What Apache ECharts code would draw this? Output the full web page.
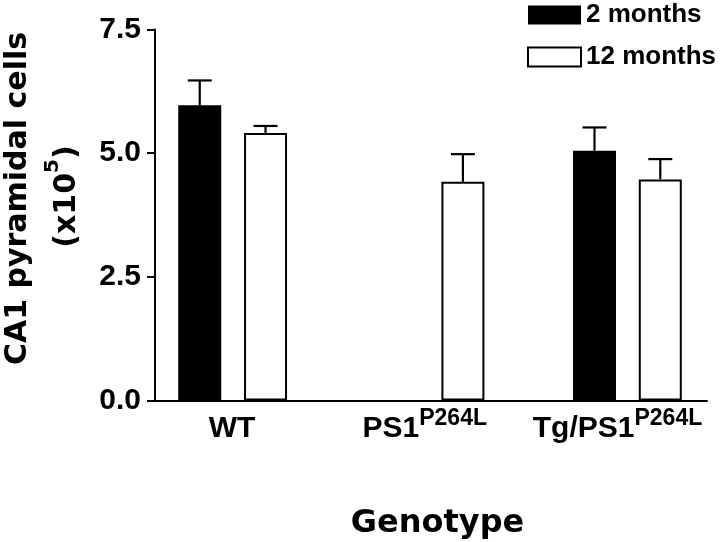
<!DOCTYPE html>
<html>
<head>
<meta charset="utf-8">
<script src="https://cdn.jsdelivr.net/npm/echarts@6/dist/echarts.min.js"></script>
<style>html,body{margin:0;padding:0;background:#fff;}#c{width:720px;height:542px;}</style>
</head>
<body>
<div id="c"></div>
<script>
// ---- data ----
const categories = ['WT', 'PS1', 'Tg/PS1'];
const superscripts = ['', 'P264L', 'P264L'];
const seriesNames = ['2 months', '12 months'];
const months2 = [5.97, null, 5.05];
const months2Err = [0.50, null, 0.47];
const months12 = [5.41, 4.42, 4.47];
const months12Err = [0.14, 0.56, 0.41];
const yTicks = [0, 2.5, 5.0, 7.5];
const yTitle = 'CA1 pyramidal cells';
const yUnit = ['(x10', '5', ')'];
const xTitle = 'Genotype';

// each genotype occupies 3 bar slots (2 mo, 12 mo, gap)
const slotOf = (g, k) => g * 3 + k;
function barData(vals, k) {
  const out = [];
  vals.forEach((v, i) => { if (v != null) out.push([slotOf(i, k), v]); });
  return out;
}
function errData(vals, errs, k) {
  const out = [];
  vals.forEach((v, i) => { if (v != null) out.push([slotOf(i, k), v, errs[i]]); });
  return out;
}
const errAll = errData(months2, months2Err, 0).concat(errData(months12, months12Err, 1));

const LF = 'Liberation Sans, Arial, Helvetica, sans-serif';
const TF = 'DejaVu Sans, sans-serif';

const chart = echarts.init(document.getElementById('c'), null, {renderer: 'canvas'});
chart.setOption({
  animation: false,
  backgroundColor: '#fff',
  legend: {
    orient: 'vertical',
    left: 527, top: 2, padding: 0,
    itemWidth: 53, itemHeight: 19, itemGap: 16,
    textStyle: {fontSize: 26, fontWeight: 'bold', fontFamily: LF, color: '#000', lineHeight: 26},
    data: [
      {name: seriesNames[0], icon: 'rect', itemStyle: {color: '#000', borderColor: '#000', borderWidth: 0}},
      {name: seriesNames[1], icon: 'rect', itemStyle: {color: '#fff', borderColor: '#000', borderWidth: 2}}
    ]
  },
  grid: [
    {left: 155, right: 13, top: 29.5, bottom: 141.5, outerBoundsMode: 'none', containLabel: false},
    {left: 135.6, right: 6.1, top: 29.5, bottom: 141.5, outerBoundsMode: 'none', containLabel: false}
  ],
  xAxis: [
    {
      type: 'value', gridIndex: 0, min: -0.68, max: 7.71,
      axisLine: {show: true, onZero: false, lineStyle: {color: '#000', width: 2}},
      axisTick: {show: false}, axisLabel: {show: false}, splitLine: {show: false},
      name: xTitle, nameLocation: 'middle', nameGap: 107,
      nameTextStyle: {fontSize: 32, fontWeight: 'bold', fontFamily: TF, color: '#000', lineHeight: 32, padding: [0, 0, 0, 13]}
    },
    {
      type: 'category', gridIndex: 1, data: categories,
      axisLine: {show: false, onZero: false}, axisTick: {show: false}, splitLine: {show: false},
      axisLabel: {
        margin: 3,
        formatter: function (v, i) {
          const s = superscripts[i];
          return '{b|' + v + '}' + (s ? '{s|' + s + '}' : '');
        },
        rich: {
          b: {fontSize: 30, fontWeight: 'bold', fontFamily: LF, color: '#000', lineHeight: 40, verticalAlign: 'bottom'},
          s: {fontSize: 23, fontWeight: 'bold', fontFamily: LF, color: '#000', lineHeight: 23, verticalAlign: 'bottom', padding: [0, 0, 13, 0]}
        }
      }
    }
  ],
  yAxis: [
    {
      type: 'value', gridIndex: 0,
      min: yTicks[0], max: yTicks[yTicks.length - 1], interval: yTicks[1] - yTicks[0],
      axisLine: {show: true, onZero: false, lineStyle: {color: '#000', width: 2}},
      axisTick: {show: true, length: 8, lineStyle: {color: '#000', width: 2}},
      splitLine: {show: false},
      axisLabel: {
        margin: 14, color: '#000', fontSize: 30, fontWeight: 'bold', fontFamily: LF,
        formatter: v => v.toFixed(1)
      },
      name: yTitle,
      nameLocation: 'middle', nameGap: 122,
      nameTextStyle: {
        fontSize: 30, fontWeight: 'bold', fontFamily: TF, color: '#000', lineHeight: 30,
        padding: [0, 0, 0, 33]
      }
    },
    {
      type: 'value', gridIndex: 1, min: 0, max: 7.5,
      axisLine: {show: false, onZero: false}, axisTick: {show: false},
      axisLabel: {show: false}, splitLine: {show: false},
      name: '{t|' + yUnit[0] + '}{sup|' + yUnit[1] + '}{t|' + yUnit[2] + '}',
      nameLocation: 'middle', nameGap: 53,
      nameTextStyle: {
        padding: [0, 0, 0, 37],
        rich: {
          t: {fontSize: 30, fontWeight: 'bold', fontFamily: TF, color: '#000', lineHeight: 30, verticalAlign: 'bottom'},
          sup: {fontSize: 20, fontWeight: 'bold', fontFamily: TF, color: '#000', lineHeight: 20, verticalAlign: 'bottom', padding: [0, 0, 20, 0]}
        }
      }
    }
  ],
  series: [
    {
      name: seriesNames[0], type: 'bar', xAxisIndex: 0, yAxisIndex: 0,
      barWidth: 43,
      itemStyle: {color: '#000', borderColor: '#000', borderWidth: 2},
      data: barData(months2, 0)
    },
    {
      name: seriesNames[1], type: 'bar', xAxisIndex: 0, yAxisIndex: 0,
      barWidth: 43, barGap: '-100%',
      itemStyle: {color: '#fff', borderColor: '#000', borderWidth: 2},
      data: barData(months12, 1)
    },
    {
      type: 'custom', xAxisIndex: 0, yAxisIndex: 0, z: 5,
      data: errAll,
      renderItem: function (params, api) {
        const x = api.value(0), m = api.value(1), e = api.value(2);
        const p0 = api.coord([x, m]);
        const p1 = api.coord([x, m + e]);
        const hw = 12;
        const st = {stroke: '#000', lineWidth: 2.2};
        return {
          type: 'group',
          children: [
            {type: 'line', shape: {x1: p0[0], y1: p0[1], x2: p1[0], y2: p1[1]}, style: st},
            {type: 'line', shape: {x1: p1[0] - hw, y1: p1[1], x2: p1[0] + hw, y2: p1[1]}, style: st}
          ]
        };
      }
    }
  ]
});
</script>
</body>
</html>
